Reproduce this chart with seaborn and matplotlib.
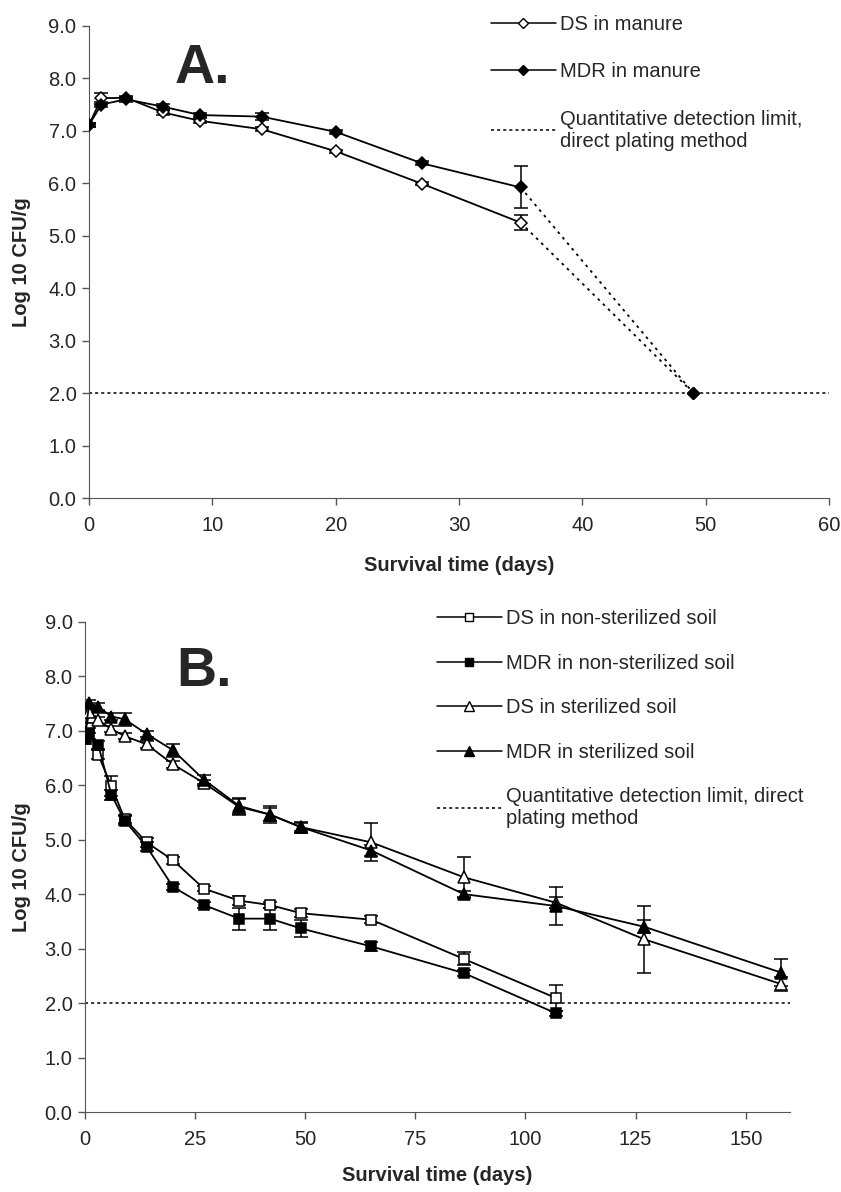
import seaborn as sns
import matplotlib.pyplot as plt
import pandas as pd
import numpy as np
from matplotlib.lines import Line2D

# ---- panel A: survival in manure ----
days_a = [0, 1, 3, 6, 9, 14, 20, 27, 35]
ds_manure = [7.11, 7.62, 7.63, 7.35, 7.19, 7.03, 6.61, 5.99, 5.25]
ds_manure_sd = [0.03, 0.10, 0.04, 0.05, 0.05, 0.04, 0.03, 0.03, 0.14]
mdr_manure = [7.11, 7.50, 7.60, 7.46, 7.30, 7.27, 6.98, 6.38, 5.92]
mdr_manure_sd = [0.03, 0.05, 0.05, 0.06, 0.04, 0.06, 0.04, 0.04, 0.40]
end_day_a = 49
limit = 2.0

# ---- panel B: survival in soil ----
days_ns = [0, 1, 3, 6, 9, 14, 20, 27, 35, 42, 49, 65, 86, 107]
ds_nonster = [6.90, 7.05, 6.56, 5.98, 5.38, 4.95, 4.62, 4.10, 3.88, 3.80, 3.65, 3.53, 2.81, 2.09]
ds_nonster_sd = [0.10, 0.10, 0.08, 0.18, 0.08, 0.08, 0.06, 0.05, 0.08, 0.06, 0.07, 0.06, 0.12, 0.24]
mdr_nonster = [6.85, 6.95, 6.74, 5.82, 5.35, 4.87, 4.13, 3.80, 3.55, 3.55, 3.37, 3.04, 2.55, 1.81]
mdr_nonster_sd = [0.10, 0.10, 0.08, 0.10, 0.08, 0.08, 0.05, 0.06, 0.20, 0.20, 0.15, 0.08, 0.06, 0.04]

days_st = [0, 1, 3, 6, 9, 14, 20, 27, 35, 42, 49, 65, 86, 107, 127, 158]
ds_ster = [6.95, 7.35, 7.19, 7.03, 6.90, 6.75, 6.38, 6.04, 5.60, 5.46, 5.23, 4.95, 4.31, 3.84, 3.17, 2.35]
ds_ster_sd = [0.10, 0.08, 0.06, 0.06, 0.05, 0.06, 0.06, 0.06, 0.15, 0.12, 0.08, 0.35, 0.38, 0.10, 0.62, 0.12]
mdr_ster = [6.95, 7.51, 7.44, 7.26, 7.21, 6.94, 6.64, 6.10, 5.62, 5.46, 5.23, 4.80, 4.00, 3.78, 3.40, 2.56]
mdr_ster_sd = [0.10, 0.06, 0.06, 0.06, 0.12, 0.06, 0.12, 0.08, 0.15, 0.15, 0.10, 0.10, 0.06, 0.35, 0.12, 0.25]

sns.set_style('ticks')
plt.rcParams['font.family'] = ['Liberation Sans', 'DejaVu Sans']
fs = 14.5

fig = plt.figure(figsize=(8.41, 11.92), dpi=100)
ax1 = fig.add_axes([0.1058, 0.5822, 0.880, 0.3961])
ax2 = fig.add_axes([0.1011, 0.0671, 0.838, 0.4113])

lw = 1.3


def draw_series(ax, x, y, sd, marker, filled, ms):
    fc = 'black' if filled else 'white'
    ax.errorbar(x, y, yerr=sd, fmt='none', ecolor='black', elinewidth=1.1,
                capsize=5, capthick=1.1, zorder=2)
    sns.lineplot(x=x, y=y, ax=ax, color='black', lw=lw, marker=marker,
                 markersize=ms, markerfacecolor=fc, markeredgecolor='black',
                 markeredgewidth=1.1, zorder=3)


# panel A
draw_series(ax1, days_a, ds_manure, ds_manure_sd, 'D', False, 6.5)
draw_series(ax1, days_a, mdr_manure, mdr_manure_sd, 'D', True, 6.5)
for vals, filled in [(ds_manure, False), (mdr_manure, True)]:
    sns.lineplot(x=[days_a[-1], end_day_a], y=[vals[-1], limit], ax=ax1,
                 color='black', lw=1.3, linestyle=(0, (1.5, 2.5)))
    ax1.plot(end_day_a, limit, marker='D', ms=6.5, color='black',
             mfc='black' if filled else 'white', zorder=4)
sns.lineplot(x=[0, 60], y=[limit, limit], ax=ax1, color='black', lw=1.1,
             linestyle=(0, (2, 2)))

ax1.set_xlim(0, 60)
ax1.set_ylim(0, 9)
ax1.set_xticks(np.arange(0, 61, 10))
ax1.set_yticks(np.arange(0, 9.1, 1))
ax1.text(0.116, 0.878, 'A.', transform=ax1.transAxes, fontsize=40,
         fontweight='bold', va='baseline')

leg_a = [
    Line2D([], [], color='black', lw=1.1, marker='D', ms=5.5, mfc='white', mec='black'),
    Line2D([], [], color='black', lw=1.1, marker='D', ms=5.5, mfc='black', mec='black'),
    Line2D([], [], color='black', lw=1.1, linestyle=(0, (2, 2))),
]
ax1.legend(leg_a, ['DS in manure', 'MDR in manure',
                   'Quantitative detection limit,\ndirect plating method'],
           loc='upper left', bbox_to_anchor=(473 / 841, 1 + 3 / 1192),
           bbox_transform=fig.transFigure, frameon=False, fontsize=fs,
           handlelength=3.2, handletextpad=0.2, labelspacing=1.4)

# panel B
draw_series(ax2, days_ns, ds_nonster, ds_nonster_sd, 's', False, 6.5)
draw_series(ax2, days_ns, mdr_nonster, mdr_nonster_sd, 's', True, 6.5)
draw_series(ax2, days_st, ds_ster, ds_ster_sd, '^', False, 8)
draw_series(ax2, days_st, mdr_ster, mdr_ster_sd, '^', True, 8)
sns.lineplot(x=[0, 160], y=[limit, limit], ax=ax2, color='black', lw=1.1,
             linestyle=(0, (2, 2)))

ax2.set_xlim(0, 160)
ax2.set_ylim(0, 9)
ax2.set_xticks(np.arange(0, 151, 25))
ax2.set_yticks(np.arange(0, 9.1, 1))
ax2.text(0.130, 0.869, 'B.', transform=ax2.transAxes, fontsize=40,
         fontweight='bold', va='baseline')

leg_b = [
    Line2D([], [], color='black', lw=1.1, marker='s', ms=5.5, mfc='white', mec='black'),
    Line2D([], [], color='black', lw=1.1, marker='s', ms=5.5, mfc='black', mec='black'),
    Line2D([], [], color='black', lw=1.1, marker='^', ms=6.5, mfc='white', mec='black'),
    Line2D([], [], color='black', lw=1.1, marker='^', ms=6.5, mfc='black', mec='black'),
    Line2D([], [], color='black', lw=1.1, linestyle=(0, (2, 2))),
]
ax2.legend(leg_b, ['DS in non-sterilized soil', 'MDR in non-sterilized soil',
                   'DS in sterilized soil', 'MDR in sterilized soil',
                   'Quantitative detection limit, direct\nplating method'],
           loc='upper left', bbox_to_anchor=(419 / 841, 1 - 591 / 1192),
           bbox_transform=fig.transFigure, frameon=False, fontsize=fs,
           handlelength=3.2, handletextpad=0.2, labelspacing=1.27)

for ax, xl_y, yl_x in ((ax1, -0.123, -0.078), (ax2, -0.110, -0.077)):
    sns.despine(ax=ax)
    ax.yaxis.set_major_formatter(plt.FormatStrFormatter('%.1f'))
    ax.tick_params(labelsize=fs, length=5, width=1, color='#555555')
    ax.tick_params(axis='x', pad=8)
    ax.tick_params(axis='y', pad=4)
    ax.spines['left'].set_color('#555555')
    ax.spines['bottom'].set_color('#555555')
    ax.set_xlabel('Survival time (days)', fontsize=fs, fontweight='bold')
    ax.set_ylabel('Log 10 CFU/g', fontsize=fs, fontweight='bold')
    ax.xaxis.set_label_coords(0.5, xl_y)
    ax.yaxis.set_label_coords(yl_x, 0.5)

fig.savefig('out.png', dpi=100)
